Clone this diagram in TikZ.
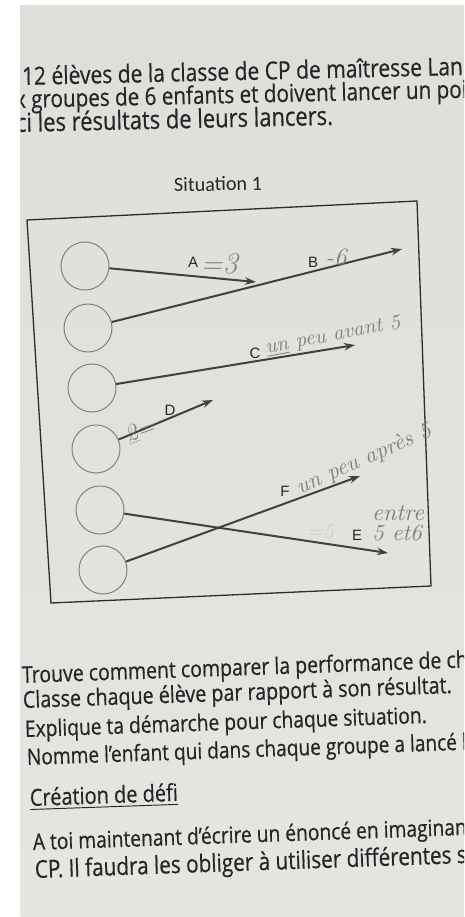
\documentclass[tikz,border=0pt]{standalone}
\usepackage{fontspec}
\usepackage{graphicx}
\setmainfont{Open Sans}[FakeBold=0.6]
\newfontfamily\calfont{Carlito}
\newfontfamily\lblfont{Liberation Sans}
\newcommand\handf{\fontfamily{lmr}\fontshape{it}\selectfont}
\newcommand\tall[2]{\resizebox{#1}{!}{\scalebox{1}[1.18]{#2}}}
\usetikzlibrary{arrows.meta}
\definecolor{paperT}{RGB}{222,222,218}
\definecolor{paperM}{RGB}{233,233,230}
\definecolor{paperB}{RGB}{229,229,226}
\definecolor{ink}{RGB}{38,38,38}
\definecolor{boxink}{RGB}{45,45,45}
\definecolor{circink}{RGB}{130,130,127}
\definecolor{arrowink}{RGB}{65,65,65}
\definecolor{pencil}{RGB}{128,128,126}
\definecolor{erased}{RGB}{205,205,202}
\tikzset{
  printtext/.style={anchor=base west, inner sep=0pt, text=ink, rotate=#1},
  stud/.style={circle, draw=circink, line width=1pt, minimum size=48pt, inner sep=0pt},
  throw/.style={draw=arrowink, line width=2pt, -{Stealth[length=11pt,width=7.5pt]}},
  lbl/.style={font=\lblfont\fontsize{15}{15}\selectfont, text=ink, inner sep=0pt},
  hw/.style={text=pencil, inner sep=0pt},
  boxline/.style={draw=boxink, line width=1.3pt, line join=miter}
}
\begin{document}
\begin{tikzpicture}[x=1pt,y=-1pt]
\useasboundingbox (0,0) rectangle (464,917);
\fill[white] (0,0) rectangle (464,917);
\shade[top color=paperT, middle color=paperM, bottom color=paperB] (20.5,6) rectangle (464,917);

\begin{scope}
\clip (20.5,6) rectangle (464,917);
% top paragraph
\node[printtext=1.3] (t1) at (22,85) {\tall{441pt}{12 élèves de la classe de CP de maîtresse Lan}};
\node[printtext=1.3] (t2) at (15,108) {\tall{452pt}{x groupes de 6 enfants et doivent lancer un poi}};
\node[printtext=1.3] (t3) at (16,132) {\tall{317pt}{ci les résultats de leurs lancers.}};
% bottom paragraph
\node[printtext=2] (b1) at (22,683) {\tall{446pt}{Trouve comment comparer la performance de ch}};
\node[printtext=2] (b2) at (23,708) {\tall{429pt}{Classe chaque élève par rapport à son résultat.}};
\node[printtext=2] (b3) at (25,737) {\tall{402pt}{Explique ta démarche pour chaque situation.}};
\node[printtext=2] (b4) at (27,765) {\tall{440pt}{Nomme l’enfant qui dans chaque groupe a lancé l}};
\node[printtext=2] (b5) at (30,806) {\tall{148pt}{\underline{Création de défi}}};
\node[printtext=2] (b6) at (33,850) {\tall{434pt}{A toi maintenant d’écrire un énoncé en imaginan}};
\node[printtext=2] (b7) at (35,878) {\tall{432pt}{CP. Il faudra les obliger à utiliser différentes s}};
\end{scope}

\node[text=ink, inner sep=0pt, rotate=1] (sit) at (218,184) {\resizebox{88pt}{!}{\calfont Situation 1}};

% frame
\coordinate (f1) at (27,220);
\coordinate (f2) at (417,201);
\coordinate (f3) at (431,586);
\coordinate (f4) at (51,603);
\draw[boxline] (f1) -- (f2) -- (f3) -- (f4) -- cycle;

% children
\node[stud] (s1) at (85,266) {};
\node[stud] (s2) at (88,328) {};
\node[stud] (s3) at (92,388) {};
\node[stud] (s4) at (96,449) {};
\node[stud] (s5) at (100,510) {};
\node[stud] (s6) at (103,570) {};

% arrow ends
\coordinate (eA) at (256,282);
\coordinate (eB) at (402,249);
\coordinate (eC) at (355,345);
\coordinate (eD) at (213,400);
\coordinate (eE) at (388,553);
\coordinate (eF) at (360,476);

\draw[throw] (s1) -- (eA);
\draw[throw] (s2) -- (eB);
\draw[throw] (s3) -- (eC);
\draw[throw] (s4) -- (eD);
\draw[throw] (s5) -- (eE);
\draw[throw] (s6) -- (eF);

% printed labels
\node[lbl] (lA) at (193,262) {A};
\node[lbl] (lB) at (313,262) {B};
\node[lbl] (lC) at (255,353) {C};
\node[lbl] (lD) at (170,410) {D};
\node[lbl] (lE) at (357,535) {E};
\node[lbl] (lF) at (285,491) {F};

% pencil annotations
\node[hw, font=\handf\fontsize{30}{30}\selectfont] (hA) at (219,264) {=3};
\node[hw, font=\handf\fontsize{25}{25}\selectfont] (hB) at (336,257) {-6};
\node[hw, rotate=10.5] (hC) at (333,336) {\resizebox{137pt}{!}{\handf \underline{un} peu avant 5}};
\node[hw, rotate=20, font=\handf\fontsize{24}{24}\selectfont] (hD) at (140,431) {\underline{2}=};
\node[hw, rotate=23.5] (hF) at (364,460) {\resizebox{145pt}{!}{\handf un peu après 5}};
\node[hw] (hE1) at (398,513) {\resizebox{52pt}{!}{\handf entre}};
\node[hw] (hE2) at (397,533) {\resizebox{50pt}{!}{\handf 5 et6}};
\node[text=erased, inner sep=0pt, font=\handf\fontsize{22}{22}\selectfont] (hX) at (320,531) {=5};
\end{tikzpicture}
\end{document}
